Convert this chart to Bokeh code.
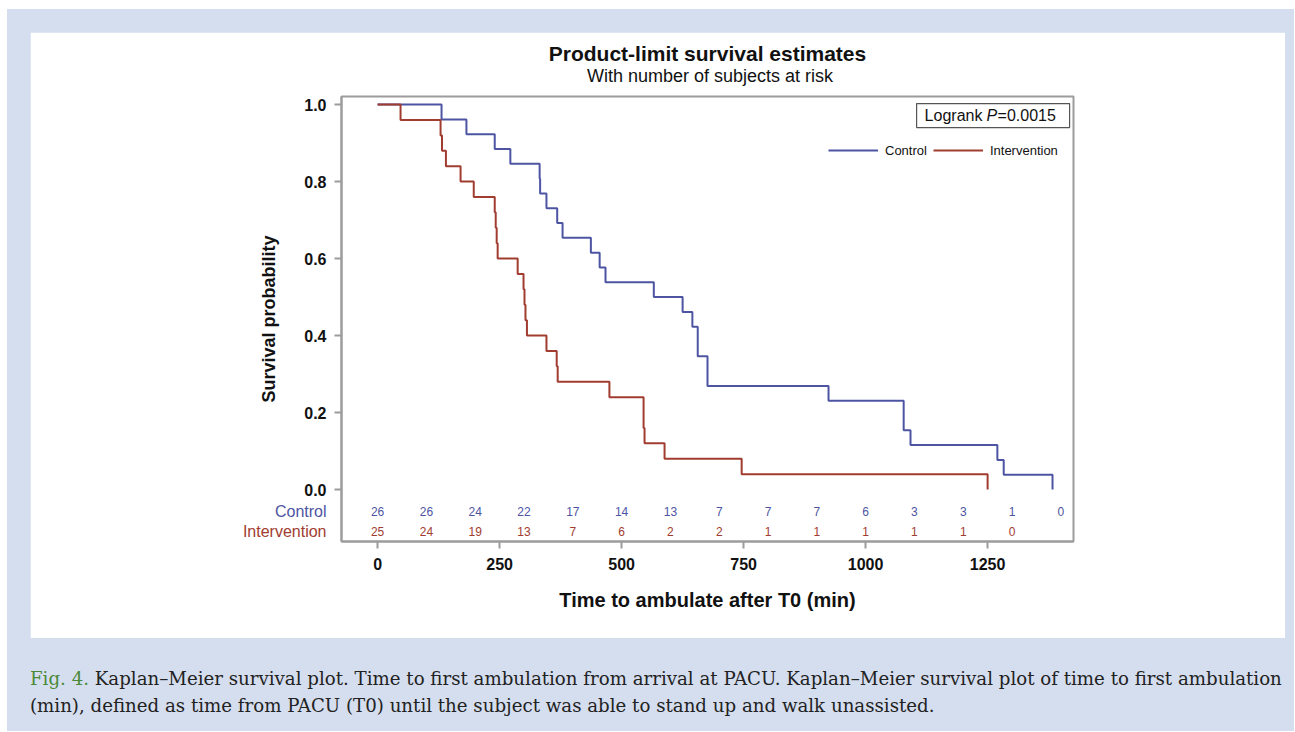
from bokeh.plotting import figure
from bokeh.models import (Range1d, FixedTicker, Label, Legend, LegendItem,
                          BoxAnnotation, Div, Spacer, ColumnDataSource,
                          PrintfTickFormatter)
from bokeh.layouts import column, row
from bokeh.core.properties import value
from bokeh.embed import file_html
from bokeh.resources import INLINE

# ---------------- data ----------------
control_time = [0, 131, 182, 240, 272, 332, 333, 346, 368, 379, 437, 455, 467,
                566, 625, 645, 656, 676, 924, 1078, 1092, 1270, 1283, 1383]
control_surv = [1.0, 0.9615, 0.9231, 0.8846, 0.8462, 0.8077, 0.7692, 0.7308,
                0.6923, 0.6538, 0.6154, 0.5769, 0.5385, 0.5, 0.4615, 0.4231,
                0.3462, 0.2692, 0.2308, 0.1538, 0.1154, 0.0769, 0.0385, 0.0]

intervention_time = [0, 47, 129, 132, 140, 170, 197, 240, 242, 244, 246, 287,
                     299, 301, 303, 306, 346, 367, 369, 475, 545, 547, 588,
                     746, 1250]
intervention_surv = [1.0, 0.96, 0.92, 0.88, 0.84, 0.80, 0.76, 0.72, 0.68, 0.64,
                     0.60, 0.56, 0.52, 0.48, 0.44, 0.40, 0.36, 0.32, 0.28, 0.24,
                     0.16, 0.12, 0.08, 0.04, 0.0]

risk_times_control = [0, 100, 200, 300, 400, 500, 600, 700, 800, 900, 1000,
                      1100, 1200, 1300, 1400]
control_at_risk = [26, 26, 24, 22, 17, 14, 13, 7, 7, 7, 6, 3, 3, 1, 0]
risk_times_intervention = [0, 100, 200, 300, 400, 500, 600, 700, 800, 900,
                           1000, 1100, 1200, 1300]
intervention_at_risk = [25, 24, 19, 13, 7, 6, 2, 2, 1, 1, 1, 1, 1, 0]

x_ticks = [0, 250, 500, 750, 1000, 1250]
y_ticks = [0.0, 0.2, 0.4, 0.6, 0.8, 1.0]

groups = ["Control", "Intervention"]
title_text = "Product-limit survival estimates"
subtitle_text = "With number of subjects at risk"
x_label = "Time to ambulate after T0 (min)"
y_label = "Survival probability"
logrank_p = "0.0015"

# ---------------- style ----------------
BLUE = "#4d55a3"
RED = "#a13c30"
FRAME = "#9c9c9c"
FONT = "Liberation Sans"
PAGE_BG = "#d5deef"

X_START, X_END = -74, 1426
Y_START, Y_END = -0.135, 1.021
FRAME_H = 445  # frame height in px

p = figure(width=1255, height=606, output_backend="svg", toolbar_location=None,
           x_range=Range1d(X_START, X_END), y_range=Range1d(Y_START, Y_END),
           min_border_left=311, min_border_right=212, min_border_top=64,
           min_border_bottom=97, background_fill_color="white",
           border_fill_color="white", title=None)

p.xgrid.visible = False
p.ygrid.visible = False
p.outline_line_color = FRAME
p.outline_line_width = 2

px_per_unit = FRAME_H / (Y_END - Y_START)
x_mid = (X_START + X_END) / 2

# titles: labels in the top side panel (not clipped), placed above the frame
p.add_layout(Label(x=x_mid, y=Y_END + 43 / px_per_unit, text=title_text,
                   text_align="center", text_baseline="middle", text_font=FONT,
                   text_font_size="21px", text_font_style="bold",
                   text_color="#111111"), "above")
p.add_layout(Label(x=x_mid + 5, y=Y_END + 21 / px_per_unit, text=subtitle_text,
                   text_align="center", text_baseline="middle", text_font=FONT,
                   text_font_size="18px", text_color="#111111"), "above")

# axes
for ax in (p.xaxis, p.yaxis):
    ax.axis_line_color = FRAME
    ax.axis_line_width = 2
    ax.major_tick_line_color = FRAME
    ax.major_tick_line_width = 2
    ax.major_tick_in = 0
    ax.major_tick_out = 7
    ax.minor_tick_line_color = None
    ax.major_label_text_font = FONT
    ax.major_label_text_font_style = "bold"
    ax.major_label_text_font_size = "16px"
    ax.major_label_text_color = "#111111"
    ax.axis_label_text_font = FONT
    ax.axis_label_text_font_style = "bold"
    ax.axis_label_text_color = "#111111"

p.xaxis.ticker = FixedTicker(ticks=x_ticks)
p.yaxis.ticker = FixedTicker(ticks=y_ticks)
p.yaxis.formatter = PrintfTickFormatter(format="%.1f")
p.xaxis.major_label_standoff = 9
p.yaxis.major_label_standoff = 8
p.xaxis.axis_label = x_label
p.yaxis.axis_label = y_label
p.xaxis.axis_label_text_font_size = "20px"
p.yaxis.axis_label_text_font_size = "18px"
p.xaxis.axis_label_standoff = 16
p.yaxis.axis_label_standoff = 22

# survival curves
r_c = p.step(control_time, control_surv, mode="after", line_color=BLUE,
             line_width=2)
r_i = p.step(intervention_time, intervention_surv, mode="after",
             line_color=RED, line_width=2)

legend = Legend(items=[LegendItem(label=groups[0], renderers=[r_c]),
                       LegendItem(label=groups[1], renderers=[r_i])],
                orientation="horizontal", location=(487, 381),
                border_line_color=None, background_fill_alpha=0, padding=0,
                margin=0, glyph_width=50, glyph_height=20, label_standoff=7,
                spacing=6, label_text_font=FONT, label_text_font_size="13px",
                label_text_color="#111111")
p.add_layout(legend)

# number at risk rows
ROW_C = -0.057
ROW_I = -0.109
src_c = ColumnDataSource(dict(x=risk_times_control,
                              t=[str(v) for v in control_at_risk]))
src_i = ColumnDataSource(dict(x=risk_times_intervention,
                              t=[str(v) for v in intervention_at_risk]))
p.text(x="x", y=ROW_C, text="t", source=src_c, text_align="center",
       text_baseline="middle", text_color=BLUE, text_font=value(FONT),
       text_font_size="12px")
p.text(x="x", y=ROW_I, text="t", source=src_i, text_align="center",
       text_baseline="middle", text_color=RED, text_font=value(FONT),
       text_font_size="12px")

# row labels of the at-risk table (left side panel, so not clipped)
for name, yy, col in ((groups[0], ROW_C, BLUE), (groups[1], ROW_I, RED)):
    p.add_layout(Label(x=X_START, y=yy, x_offset=-15, text=name,
                       text_align="right", text_baseline="middle",
                       text_color=col, text_font=FONT, text_font_size="16px"),
                 "left")

# logrank box
box_left, box_right = 1104.5, 1418
box_top, box_bottom = 1.0026, 0.9403
p.add_layout(BoxAnnotation(left=box_left, right=box_right, top=box_top,
                           bottom=box_bottom, fill_alpha=0, line_color="#555555",
                           line_width=1.2, line_alpha=1))
ymid = (box_top + box_bottom) / 2
p.add_layout(Label(x=box_left, y=ymid, x_offset=8, text="Logrank",
                   text_baseline="middle", text_font=FONT,
                   text_font_size="16px", text_color="#111111"))
p.add_layout(Label(x=box_left, y=ymid, x_offset=70, text="P",
                   text_baseline="middle", text_font=FONT,
                   text_font_size="16px", text_font_style="italic",
                   text_color="#111111"))
p.add_layout(Label(x=box_left, y=ymid, x_offset=81, text="=" + logrank_p,
                   text_baseline="middle", text_font=FONT,
                   text_font_size="16px", text_color="#111111"))

caption = Div(
    text=('<span style="color:#4a8a3a">Fig. 4.</span> Kaplan\u2013Meier survival plot. '
          'Time to first ambulation from arrival at PACU. Kaplan\u2013Meier survival '
          'plot of time to first ambulation<br>(min), defined as time from PACU (T0) '
          'until the subject was able to stand up and walk unassisted.'),
    width=1262, height=60, margin=0,
    styles={"font-family": "DejaVu Serif", "font-size": "18.2px",
            "line-height": "27px", "color": "#222222", "white-space": "nowrap"})

layout = column(
    Spacer(height=23, width=1287, margin=0),
    row(Spacer(width=23, height=606, margin=0), p, margin=0),
    Spacer(height=27, width=1287, margin=0),
    row(Spacer(width=23, height=60, margin=0), caption, margin=0),
    width=1287, height=722, margin=(9, 0, 0, 7),
    styles={"background-color": PAGE_BG})

open("out.html", "w").write(file_html(layout, INLINE))
